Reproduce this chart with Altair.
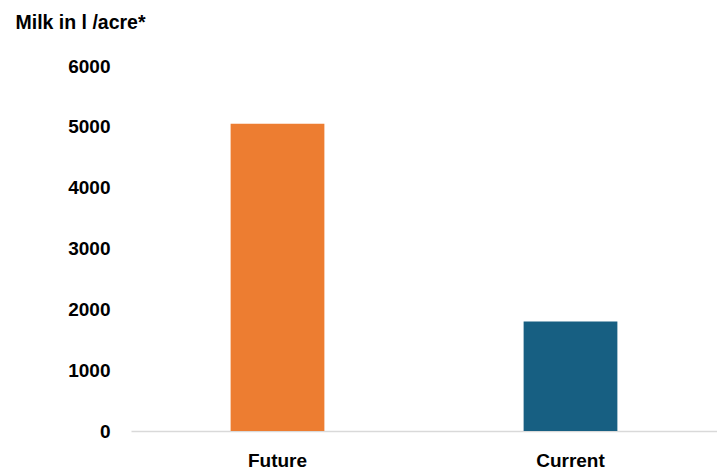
import altair as alt
import pandas as pd

categories = ["Future", "Current"]
values = [5050, 1800]
colors = ["#ED7D31", "#175F82"]

df = pd.DataFrame({"scenario": categories, "milk": values})

FONT = "Liberation Sans"

bars = alt.Chart(df).mark_bar().encode(
    x=alt.X("scenario:N", sort=categories,
            scale=alt.Scale(paddingInner=0.68, paddingOuter=0.34),
            axis=alt.Axis(title=None, labelAngle=0, ticks=False, domain=True,
                          domainColor="#D9D9D9", domainWidth=1.5,
                          labelFont=FONT, labelFontSize=19, labelFontWeight="bold",
                          labelColor="#000000", labelPadding=20)),
    y=alt.Y("milk:Q", scale=alt.Scale(domain=[0, 6000], nice=False),
            axis=alt.Axis(values=[0, 1000, 2000, 3000, 4000, 5000, 6000],
                          title="Milk in l /acre*", titleAngle=0,
                          titleAlign="left", titleBaseline="middle",
                          titleX=-116, titleY=-44,
                          titleFont=FONT, titleFontSize=19.5, titleFontWeight="bold",
                          titleColor="#000000",
                          grid=False, domain=False, ticks=False,
                          labelFont=FONT, labelFontSize=19, labelFontWeight="bold",
                          labelColor="#000000", labelPadding=21, format="d")),
    color=alt.Color("scenario:N", scale=alt.Scale(domain=categories, range=colors),
                    legend=None),
)

chart = bars.properties(
    width=586, height=365,
    background="white",
    autosize=alt.AutoSizeParams(type="none"),
    padding={"left": 131, "top": 66, "right": 0, "bottom": 45},
).configure_view(strokeWidth=0, stroke="transparent")

chart.save("out.html", embed_options={"renderer": "svg", "actions": False})
